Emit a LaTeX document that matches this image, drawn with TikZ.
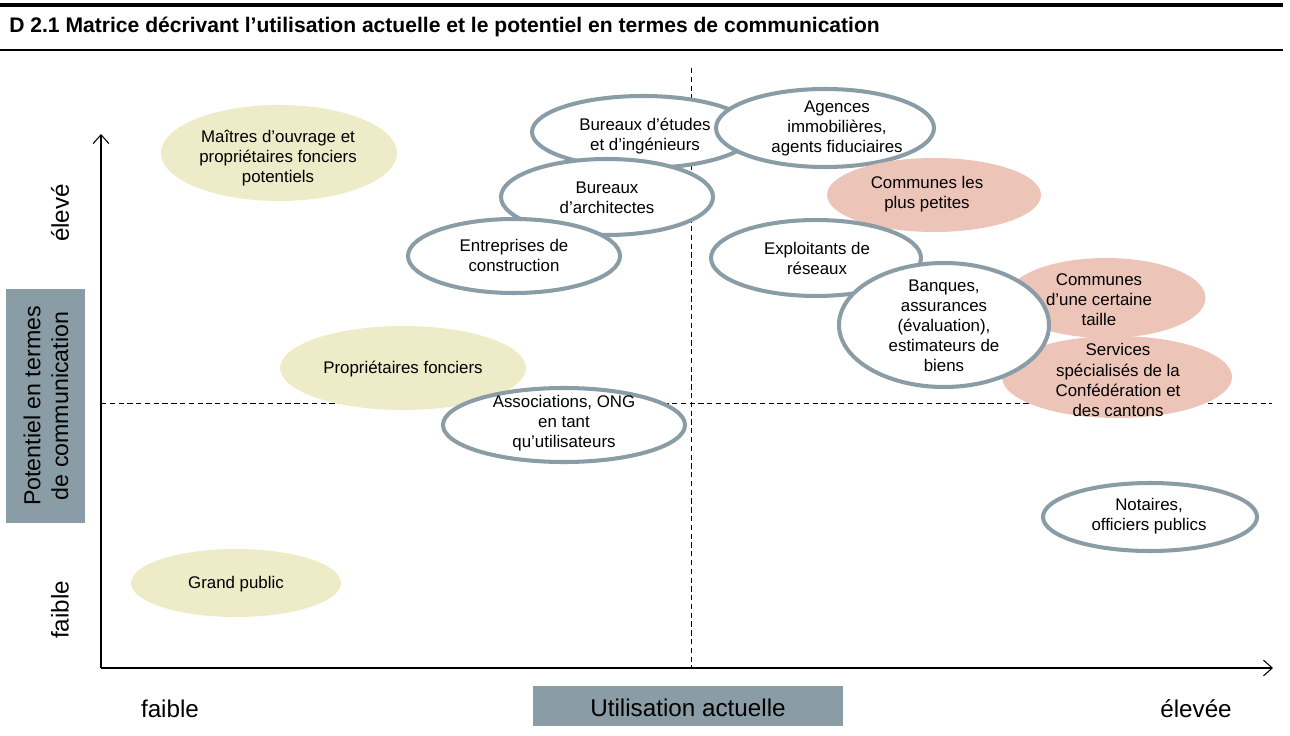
\documentclass[tikz,border=0pt]{standalone}
\usepackage{fontspec}
\setmainfont{Liberation Sans}
\usetikzlibrary{shapes.geometric,arrows.meta}
\definecolor{bord}{RGB}{138,156,166}
\definecolor{boxg}{RGB}{138,156,166}
\definecolor{yel}{RGB}{238,235,200}
\definecolor{pink}{RGB}{236,197,184}
\tikzset{
  ell/.style={ellipse, inner sep=0pt, draw=bord, line width=2.3pt, fill=white},
  yell/.style={ellipse, inner sep=0pt, fill=yel},
  pell/.style={ellipse, inner sep=0pt, fill=pink},
  txt/.style={align=center, font=\fontsize{9.6}{11.4}\selectfont, inner sep=0pt},
  axl/.style={font=\fontsize{13.8}{15}\selectfont, inner sep=0pt},
  dsh/.style={dash pattern=on 3pt off 2pt, line width=0.45pt},
  axis/.style={line width=0.6pt, -{Straight Barb[length=5pt,width=9pt]}},
}
\begin{document}
\begin{tikzpicture}[x=0.02cm,y=-0.02cm]
\useasboundingbox (0,0) rectangle (1290,736);
% header
\draw[line width=1.8pt] (0,5) -- (1283,5);
\draw[line width=0.7pt] (0,50) -- (1283,50);
\node[anchor=west, inner sep=0pt, font=\bfseries\fontsize{12}{14}\selectfont] (title) at (9,27) {D 2.1 Matrice décrivant l’utilisation actuelle et le potentiel en termes de communication};
% dashed quadrant lines
\coordinate (vt) at (691,68); \coordinate (vb) at (691,668);
\coordinate (hl) at (101,403); \coordinate (hr) at (1272,403);
\draw[dsh] (vt) -- (vb);
\draw[dsh] (hl) -- (hr);
% axes
\coordinate (o) at (101,668); \coordinate (ytop) at (101,134); \coordinate (xr) at (1273,668);
\draw[axis] (o) -- (ytop);
\draw[axis] (o) -- (xr);
% axis labels
\node[fill=boxg, minimum width=79*0.02cm, minimum height=234*0.02cm, inner sep=0pt] (ybox) at (45.5,406) {};
\node[rotate=90, align=center, inner sep=0pt, font=\fontsize{13.2}{15.8}\selectfont] (ylab) at (46,406) {Potentiel en termes\\de communication};
\node[fill=boxg, minimum width=310*0.02cm, minimum height=40*0.02cm, inner sep=0pt] (xbox) at (688,706) {};
\node[axl] (xlab) at (688,708) {Utilisation actuelle};
\node[axl, rotate=90] (yhi) at (60,213) {élevé};
\node[axl, rotate=90] (ylo) at (60,610) {faible};
\node[axl] (xlo) at (170,709) {faible};
\node[axl] (xhi) at (1196,709) {élevée};
% yellow ellipses
\node[yell, minimum width=236*0.02cm, minimum height=96*0.02cm] (e1) at (279,153) {};
\node[txt] (t1) at (278,158) {Maîtres d’ouvrage et\\propriétaires fonciers\\potentiels};
\node[yell, minimum width=210*0.02cm, minimum height=68*0.02cm] (e2) at (236,583) {};
\node[txt] (t2) at (236,584) {Grand public};
\node[yell, minimum width=246*0.02cm, minimum height=84*0.02cm] (e3) at (403,368) {};
\node[txt] (t3) at (403,369) {Propriétaires fonciers};
% white ellipses left
\node[ell, minimum width=242*0.02cm, minimum height=74*0.02cm] (e4) at (564,425) {};
\node[txt] (t4) at (564,423) {Associations, ONG\\en tant\\qu’utilisateurs};
\node[ell, minimum width=222*0.02cm, minimum height=72*0.02cm] (e5) at (643,132) {};
\node[txt] (t5) at (645,136) {Bureaux d’études\\et d’ingénieurs};
\node[ell, minimum width=212*0.02cm, minimum height=76*0.02cm] (e6) at (607,197) {};
\node[txt] (t6) at (607,198) {Bureaux\\d’architectes};
\node[ell, minimum width=212*0.02cm, minimum height=74*0.02cm] (e7) at (514,256) {};
\node[txt] (t7) at (514,255) {Entreprises de\\construction};
% right
\node[ell, minimum width=218*0.02cm, minimum height=78*0.02cm] (e8) at (825,128) {};
\node[txt] (t8) at (837,128) {Agences\\immobilières,\\agents fiduciaires};
\node[pell, minimum width=214*0.02cm, minimum height=74*0.02cm] (e9) at (934,195) {};
\node[txt] (t9) at (927,194) {Communes les\\plus petites};
\node[ell, minimum width=210*0.02cm, minimum height=76*0.02cm] (e10) at (816,258) {};
\node[txt] (t10) at (817,258) {Exploitants de\\réseaux};
\node[pell, minimum width=199*0.02cm, minimum height=80*0.02cm] (e11) at (1106,298) {};
\node[txt] (t11) at (1099,300) {Communes\\d’une certaine\\taille};
\node[pell, minimum width=230*0.02cm, minimum height=82*0.02cm] (e12) at (1117,377) {};
\node[txt] (t12) at (1118,380) {Services\\spécialisés de la\\Confédération et\\des cantons};
\node[ell, minimum width=210*0.02cm, minimum height=124*0.02cm] (e13) at (944,325) {};
\node[txt] (t13) at (944,326) {Banques,\\assurances\\(évaluation),\\estimateurs de\\biens};
\node[ell, minimum width=214*0.02cm, minimum height=68*0.02cm] (e14) at (1150,517) {};
\node[txt] (t14) at (1149,516) {Notaires,\\officiers publics};
\end{tikzpicture}
\end{document}
